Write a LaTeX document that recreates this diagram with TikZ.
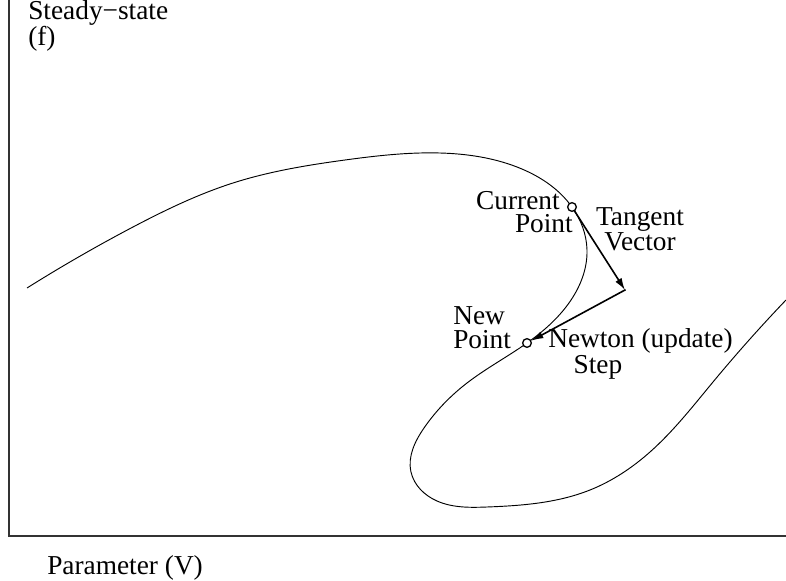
\documentclass[tikz,border=0pt]{standalone}
\usepackage{fontspec}
\setmainfont{Liberation Serif}
\usepackage{tikz}
\usetikzlibrary{arrows.meta,calc,positioning,hobby}
\tikzset{
  axisline/.style={line width=1pt, draw=black!80},
  branch/.style={line width=0.7pt, draw=black, use Hobby shortcut},
  vecarrow/.style={-{Latex[length=9pt,width=5.5pt]}, line width=1.2pt, draw=black, shorten <=-0.5pt},
  ptmark/.style={draw=black, circle, line width=1pt, minimum size=6.5pt, inner sep=0pt, fill=white},
  lbl/.style={font=\fontsize{20.5}{17.5}\selectfont, inner sep=0pt}
}

\begin{document}
\begin{tikzpicture}[x=0.75pt,y=-0.75pt]
  \useasboundingbox (0,0) rectangle (786,581);
  \coordinate (ytop) at (9,0);
  \coordinate (origin) at (9,536);
  \coordinate (xend) at (786,536);
  \draw[axisline] (ytop) -- (origin) -- (xend);
  % solution branch
  \draw[branch] (27,288) .. (133,227) .. (233,183) .. (345,160) .. (440,153)
    .. (517,167) .. (572,207) .. (587,250) .. (566,307) .. (527,343)
    .. (467,383) .. (424,428) .. (411,472) .. (437,501) .. (487,507)
    .. (590,490) .. (650,452) .. (713,382) .. (786,300);
  \node[ptmark] (cur) at (572,207) {};
  \node[ptmark] (new) at (527,343) {};
  \coordinate (tip) at (625,290);
  \draw[vecarrow] (cur) -- (tip);
  \draw[vecarrow] (tip) -- (new);
  % labels
  \node[lbl, align=left, anchor=base west] (ylabel) at (28,46) {Steady−state\\(f)};
  \node[lbl, anchor=base west] (xlabel) at (47,574) {Parameter (V)};
  \node[lbl, align=right, anchor=base east] (curlabel) at (573,233) {Current\hspace*{9.75pt}\\Point};
  \node[lbl, align=center, anchor=base] (tanlabel) at (640,251) {Tangent\\Vector};
  \node[lbl, align=left, anchor=base west] (newlabel) at (453,348) {New\\Point};
  \node[lbl, align=left, anchor=base west] (steplabel) at (548,373) {Newton (update)\\\hspace*{19pt}Step};
\end{tikzpicture}
\end{document}
